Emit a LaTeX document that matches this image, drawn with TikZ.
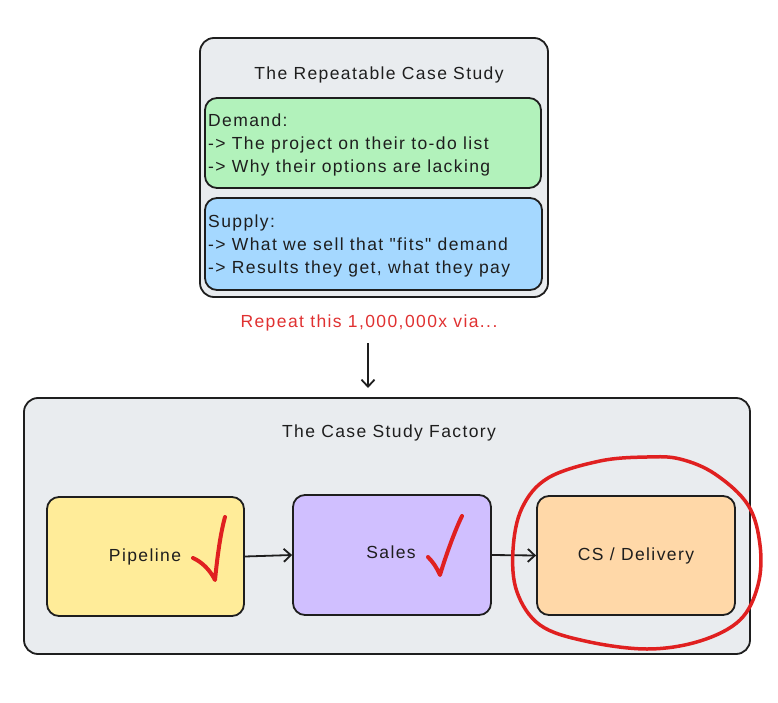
\documentclass[tikz,border=0pt]{standalone}
\usepackage{fontspec}
\newfontfamily\handfont{Liberation Sans}[LetterSpace=8]
\usetikzlibrary{arrows.meta}
\definecolor{stroke}{HTML}{1E1E1E}
\definecolor{panel}{HTML}{E9ECEF}
\definecolor{green}{HTML}{B2F2BB}
\definecolor{blue}{HTML}{A5D8FF}
\definecolor{yellow}{HTML}{FFEC99}
\definecolor{violet}{HTML}{D0BFFF}
\definecolor{orange}{HTML}{FFD8A8}
\definecolor{redmark}{HTML}{E02020}
\definecolor{redtext}{HTML}{E03131}
\tikzset{
  boxshape/.style={draw=stroke, line width=1.8pt, rounded corners=12pt},
  panelshape/.style={draw=stroke, line width=1.8pt, rounded corners=14pt, fill=panel},
  txt/.style={font=\handfont\fontsize{17.5}{20}\selectfont, text=stroke, inner sep=0pt},
  arr/.style={draw=stroke, line width=1.8pt, -{Straight Barb[length=7pt,width=13pt,line width=1.8pt]}},
  redline/.style={draw=redmark, line width=4pt, line cap=round, line join=round},
}
\begin{document}
\begin{tikzpicture}[x=1pt,y=-1pt]
\useasboundingbox (0,0) rectangle (778,703);
% top panel
\draw[panelshape] (200,38) rectangle (548,297);
\node[txt, anchor=base] (t1) at (379,80) {The Repeatable Case Study};
\draw[boxshape, fill=green] (205,98) rectangle (541,188);
\node[txt, anchor=base west] (d1) at (208,127) {Demand:};
\node[txt, anchor=base west] (d2) at (208,150) {-> The project on their to-do list};
\node[txt, anchor=base west] (d3) at (208,173) {-> Why their options are lacking};
\draw[boxshape, fill=blue] (205,198) rectangle (542,290);
\node[txt, anchor=base west] (s1) at (208,227) {Supply:};
\node[txt, anchor=base west] (s2) at (208,250) {-> What we sell that "fits" demand};
\node[txt, anchor=base west] (s3) at (208,273) {-> Results they get, what they pay};
% red caption and arrow
\node[txt, text=redtext, anchor=base] (rep) at (369,327) {Repeat this 1,000,000x via...};
\coordinate (a1) at (368,343);
\coordinate (a2) at (368,388);
\draw[arr] (a1) -- (a2);
% bottom panel
\draw[panelshape] (24,398) rectangle (750,654);
\node[txt, anchor=base] (t2) at (389,437) {The Case Study Factory};
\node[boxshape, fill=yellow, minimum width=197pt, minimum height=119pt] (pipe) at (145.5,556.5) {};
\node[txt, anchor=base] (pipet) at (145,561) {Pipeline};
\node[boxshape, fill=violet, minimum width=198pt, minimum height=120pt] (sales) at (392,555) {};
\node[txt, anchor=base] (salest) at (391,558) {Sales};
\node[boxshape, fill=orange, minimum width=198pt, minimum height=119pt] (cs) at (636,555.5) {};
\node[txt, anchor=base] (cst) at (636,560) {CS / Delivery};
\draw[arr] (pipe.east) -- (sales.west);
\draw[arr] (sales.east) -- (cs.west);
% check marks
\draw[redline] (193,558) .. controls (202,562) and (210,570) .. (215,580) .. controls (217,560) and (220,535) .. (225,517);
\draw[redline] (428,557) .. controls (433,562) and (437,568) .. (440,575) .. controls (445,558) and (455,530) .. (462,516);
% red circle
\draw[draw=redmark, line width=3.5pt, line join=round] plot[smooth cycle, tension=0.6] coordinates {
(647,457) (600,461) (548,478) (522,508) (513,550) (517,592) (540,625) (585,641) (647,649) (700,641) (740,620) (758,585) (760,545) (748,505) (715,474) (680,459)};
\end{tikzpicture}
\end{document}
